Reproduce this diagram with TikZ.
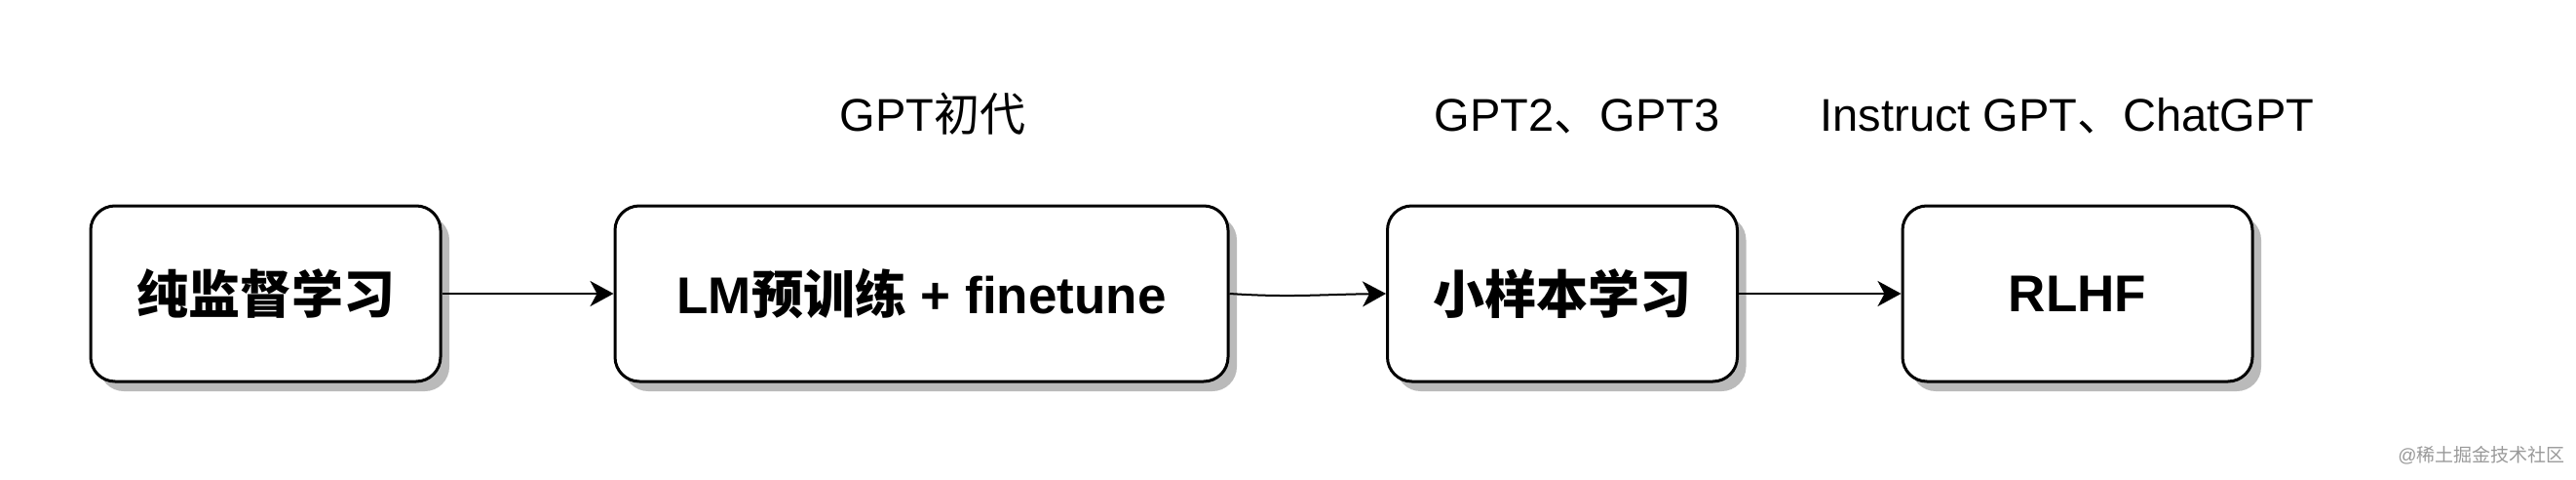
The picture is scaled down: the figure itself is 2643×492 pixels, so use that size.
\documentclass[tikz,border=0pt]{standalone}
\usepackage{fontspec}
\setmainfont{Liberation Sans}
\newfontfamily\cjk{Noto Sans CJK SC}
\usetikzlibrary{arrows.meta,shadows}
\begin{document}
\begin{tikzpicture}[x=1pt,y=-1pt,
  box/.style={draw=black, line width=3pt, rounded corners=25pt, fill=white,
    minimum height=180pt, inner sep=0pt,
    font=\fontsize{53}{60}\selectfont\bfseries,
    drop shadow={shadow xshift=9pt, shadow yshift=-10pt, fill=black!27, opacity=1}},
  lbl/.style={anchor=base, inner sep=0pt, font=\fontsize{47}{56}\selectfont},
  conn/.style={line width=2pt, -{Stealth[length=24pt, width=26pt, inset=7pt]}}
]
\useasboundingbox (0,0) rectangle (2643,492);
\node[box, minimum width=359pt] (b1) at (272.5,301) {{\cjk 纯监督学习}};
\node[box, minimum width=629pt] (b2) at (945.5,301) {LM{\cjk 预训练} + finetune};
\node[box, minimum width=359pt] (b3) at (1603,301) {{\cjk 小样本学习}};
\node[box, minimum width=359pt] (b4) at (2131.5,301) {RLHF};
\node[lbl] (l2) at (957,135) {GPT{\cjk 初代}};
\node[lbl] (l3) at (1618,135) {GPT2{\cjk 、}GPT3};
\node[lbl] (l4) at (2121,135) {Instruct GPT{\cjk 、}ChatGPT};
\node[anchor=base, inner sep=0pt, text=black!40, font=\fontsize{19}{22}\selectfont] (wm) at (2546,473) {@{\cjk 稀土掘金技术社区}};
\draw[conn] (b1.east) -- (b2.west);
\draw[conn] (b2.east) .. controls +(60,4) and +(-70,1) .. (b3.west);
\draw[conn] (b3.east) -- (b4.west);
\end{tikzpicture}
\end{document}
